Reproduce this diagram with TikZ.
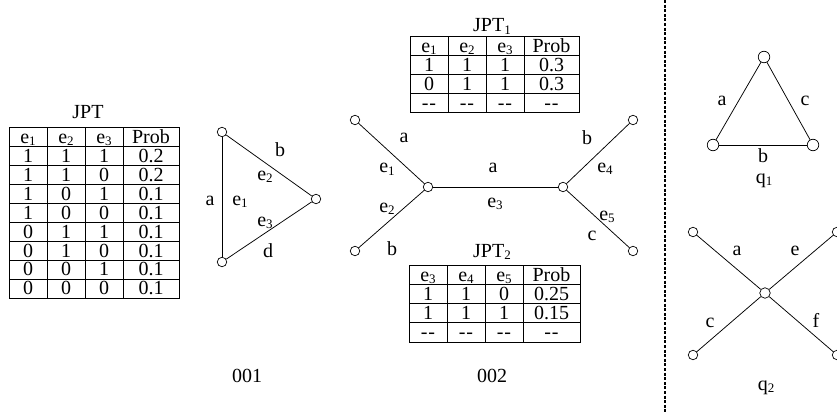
\documentclass[tikz,border=0pt]{standalone}
\usepackage{fontspec}
\setmainfont{Liberation Serif}
\newcommand\dsh{-\kern0.8pt-}
\newcommand\sbs[1]{\raisebox{-2.2pt}{\fontsize{13}{13}\selectfont #1}}
\begin{document}
\begin{tikzpicture}[x=1pt,y=-1pt,
  every node/.style={font=\fontsize{20}{22}\selectfont},
  lbl/.style={anchor=base, inner sep=0pt},
  cell/.style={anchor=base, inner sep=0pt, text depth=0pt},
  vtx/.style={circle, draw, fill=white, inner sep=0pt, minimum size=9.5pt, line width=0.7pt},
  bigvtx/.style={vtx, minimum size=11.5pt},
  edge/.style={line width=0.75pt},
  grid/.style={line width=1pt},
]
\useasboundingbox (0,0) rectangle (837,414);

% ---------- JPT table ----------
\node[lbl] (jpt) at (88,119) {JPT};
\draw[grid] (9,128) rectangle (179,298);
\foreach \xx in {47,85,123} \draw[grid] (\xx,128) -- (\xx,298);
\foreach \i in {1,...,8} \draw[grid] (9,{128+\i*18.89}) -- (179,{128+\i*18.89});
\node[cell] (A-0-1) at (28,{128+18.89-3.2}) {e\sbs{1}};
\node[cell] (A-0-2) at (66,{128+18.89-3.2}) {e\sbs{2}};
\node[cell] (A-0-3) at (104,{128+18.89-3.2}) {e\sbs{3}};
\node[cell] (A-0-4) at (151,{128+18.89-3.2}) {Prob};
\foreach \r/\a/\b/\c/\p in {1/1/1/1/0.2,2/1/1/0/0.2,3/1/0/1/0.1,4/1/0/0/0.1,5/0/1/1/0.1,6/0/1/0/0.1,7/0/0/1/0.1,8/0/0/0/0.1}{
  \node[cell] (A-\r-1) at (28,{128+(\r+1)*18.89-3.2}) {\a};
  \node[cell] (A-\r-2) at (66,{128+(\r+1)*18.89-3.2}) {\b};
  \node[cell] (A-\r-3) at (104,{128+(\r+1)*18.89-3.2}) {\c};
  \node[cell] (A-\r-4) at (151,{128+(\r+1)*18.89-3.2}) {\p};
}

% ---------- graph 001 ----------
\node[vtx] (p1) at (222,132) {};
\node[vtx] (p2) at (222,262) {};
\node[vtx] (p3) at (316,199) {};
\draw[edge] (p1) -- (p2);
\draw[edge] (p1) -- (p3);
\draw[edge] (p2) -- (p3);
\node[lbl] (l1a) at (210,205) {a};
\node[lbl] (l1e1) at (240,205) {e\sbs{1}};
\node[lbl] (l1b) at (280,157) {b};
\node[lbl] (l1e2) at (265,180) {e\sbs{2}};
\node[lbl] (l1e3) at (265,226) {e\sbs{3}};
\node[lbl] (l1d) at (268,257) {d};
\node[lbl] (n001) at (247,382) {001};

% ---------- JPT1 ----------
\node[lbl] (jpt1) at (492,32) {JPT\sbs{1}};
\draw[grid] (410,37) rectangle (579,113);
\foreach \xx in {448,486,524} \draw[grid] (\xx,37) -- (\xx,113);
\foreach \i in {1,2,3} \draw[grid] (410,{37+\i*19}) -- (579,{37+\i*19});
\node[cell] (B-0-1) at (429,{37+19-3.2}) {e\sbs{1}};
\node[cell] (B-0-2) at (467,{37+19-3.2}) {e\sbs{2}};
\node[cell] (B-0-3) at (505,{37+19-3.2}) {e\sbs{3}};
\node[cell] (B-0-4) at (551.5,{37+19-3.2}) {Prob};
\foreach \r/\a/\b/\c/\p in {1/1/1/1/0.3,2/0/1/1/0.3,3/\dsh/\dsh/\dsh/\dsh}{
  \node[cell] (B-\r-1) at (429,{37+(\r+1)*19-3.2}) {\a};
  \node[cell] (B-\r-2) at (467,{37+(\r+1)*19-3.2}) {\b};
  \node[cell] (B-\r-3) at (505,{37+(\r+1)*19-3.2}) {\c};
  \node[cell] (B-\r-4) at (551.5,{37+(\r+1)*19-3.2}) {\p};
}

% ---------- graph 002 ----------
\node[vtx] (cL) at (428,187) {};
\node[vtx] (cR) at (563,187) {};
\node[vtx] (uL) at (355,120) {};
\node[vtx] (dL) at (355,251) {};
\node[vtx] (uR) at (633,120) {};
\node[vtx] (dR) at (633,251) {};
\draw[edge] (uL) -- (cL);
\draw[edge] (dL) -- (cL);
\draw[edge] (cL) -- (cR);
\draw[edge] (cR) -- (uR);
\draw[edge] (cR) -- (dR);
\node[lbl] (l2a1) at (404,143) {a};
\node[lbl] (l2e1) at (387,173) {e\sbs{1}};
\node[lbl] (l2e2) at (387,212) {e\sbs{2}};
\node[lbl] (l2b1) at (392,255) {b};
\node[lbl] (l2a2) at (493,172) {a};
\node[lbl] (l2e3) at (495,207) {e\sbs{3}};
\node[lbl] (l2b2) at (587,145) {b};
\node[lbl] (l2e4) at (605,172) {e\sbs{4}};
\node[lbl] (l2e5) at (607,220) {e\sbs{5}};
\node[lbl] (l2c) at (592,240) {c};
\node[lbl] (n002) at (492,382) {002};

% ---------- JPT2 ----------
\node[lbl] (jpt2) at (492,257) {JPT\sbs{2}};
\draw[grid] (409,265) rectangle (580,342);
\foreach \xx in {447,485,523} \draw[grid] (\xx,265) -- (\xx,342);
\foreach \i in {1,2,3} \draw[grid] (409,{265+\i*19.25}) -- (580,{265+\i*19.25});
\node[cell] (C-0-1) at (428,{265+19.25-3.2}) {e\sbs{3}};
\node[cell] (C-0-2) at (466,{265+19.25-3.2}) {e\sbs{4}};
\node[cell] (C-0-3) at (504,{265+19.25-3.2}) {e\sbs{5}};
\node[cell] (C-0-4) at (551.5,{265+19.25-3.2}) {Prob};
\foreach \r/\a/\b/\c/\p in {1/1/1/0/0.25,2/1/1/1/0.15,3/\dsh/\dsh/\dsh/\dsh}{
  \node[cell] (C-\r-1) at (428,{265+(\r+1)*19.25-3.2}) {\a};
  \node[cell] (C-\r-2) at (466,{265+(\r+1)*19.25-3.2}) {\b};
  \node[cell] (C-\r-3) at (504,{265+(\r+1)*19.25-3.2}) {\c};
  \node[cell] (C-\r-4) at (551.5,{265+(\r+1)*19.25-3.2}) {\p};
}

% ---------- separator ----------
\coordinate (sepT) at (665,0);
\coordinate (sepB) at (665,414);
\draw[line width=1.2pt, dash pattern=on 3pt off 1.6pt] (sepT) -- (sepB);

% ---------- q1 ----------
\node[bigvtx] (qa) at (764,57) {};
\node[bigvtx] (qb) at (713,145) {};
\node[bigvtx] (qc) at (813,145) {};
\draw[edge] (qa) -- (qb);
\draw[edge] (qb) -- (qc);
\draw[edge] (qc) -- (qa);
\node[lbl] (l3a) at (722,106) {a};
\node[lbl] (l3c) at (805,106) {c};
\node[lbl] (l3b) at (763,163) {b};
\node[lbl] (nq1) at (764,183) {q\sbs{1}};

% ---------- q2 ----------
\node[vtx, minimum size=10.5pt] (xc) at (765,293) {};
\node[vtx] (xul) at (693,232) {};
\node[vtx] (xur) at (837,232) {};
\node[vtx] (xdl) at (693,355) {};
\node[vtx] (xdr) at (837,355) {};
\draw[edge] (xul) -- (xc);
\draw[edge] (xur) -- (xc);
\draw[edge] (xdl) -- (xc);
\draw[edge] (xdr) -- (xc);
\node[lbl] (l4a) at (737,255) {a};
\node[lbl] (l4e) at (795,255) {e};
\node[lbl] (l4c) at (710,327) {c};
\node[lbl] (l4f) at (816,327) {f};
\node[lbl] (nq2) at (766,390) {q\sbs{2}};
\end{tikzpicture}
\end{document}
